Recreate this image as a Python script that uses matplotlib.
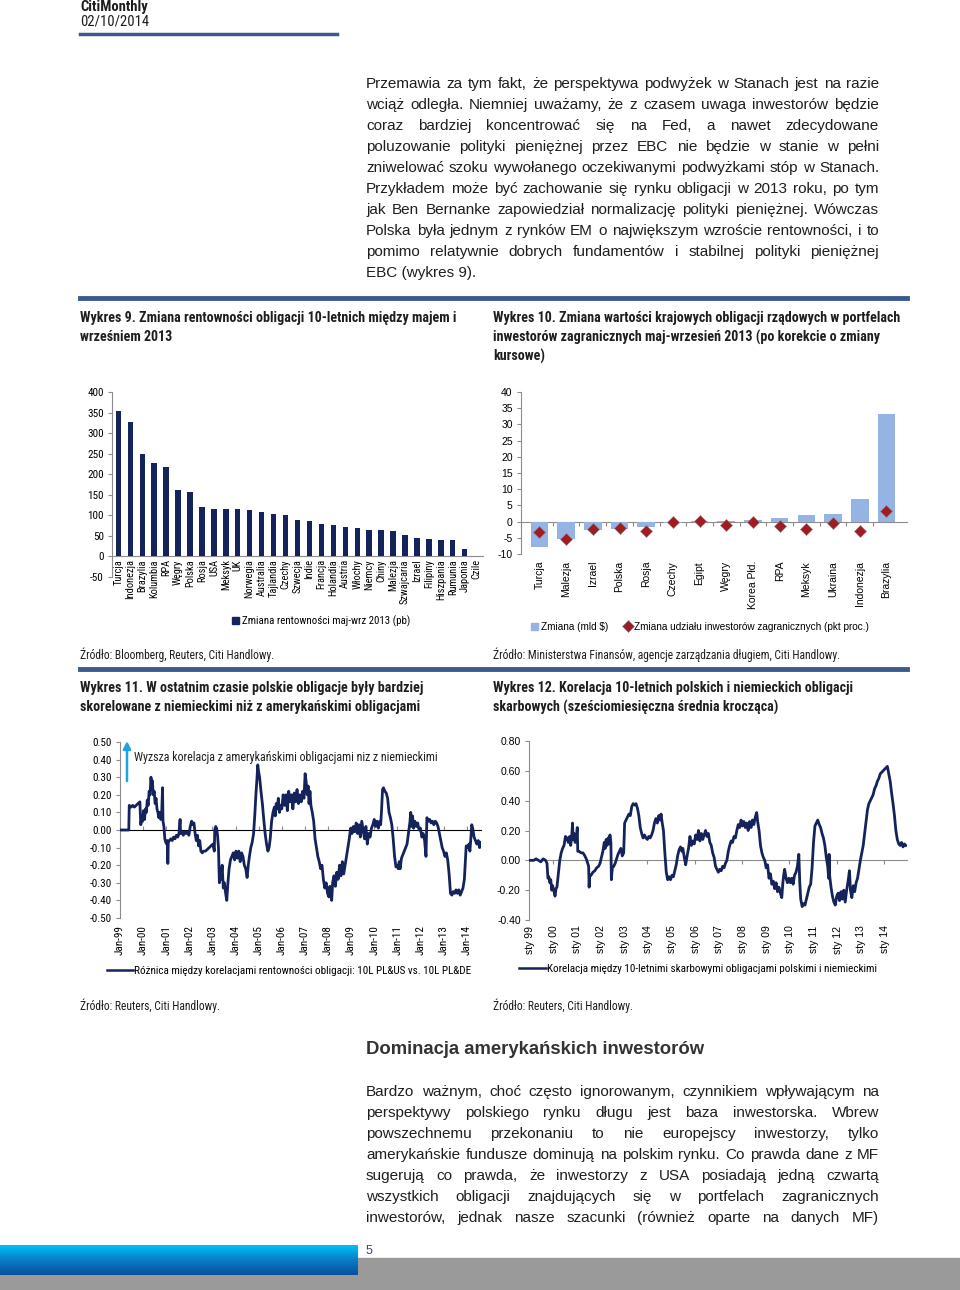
import matplotlib.pyplot as plt
import matplotlib.font_manager as fm
import numpy as np
from matplotlib.patches import Rectangle, Patch
from matplotlib.lines import Line2D

plt.rcParams["axes.unicode_minus"] = False

# ---- data: Wykres 9 ----
c9 = ["Turcja", "Indonezja", "Brazylia", "Kolumbia", "RPA", "Węgry", "Polska",
      "Rosja", "USA", "Meksyk", "UK", "Norwegia", "Australia", "Tajlandia",
      "Czechy", "Szwecja", "Indie", "Francja", "Holandia", "Austria", "Włochy",
      "Niemcy", "Chiny", "Malezja", "Szwajcaria", "Izrael", "Filipiny",
      "Hiszpania", "Rumunia", "Japonia", "Czile"]
v9 = [353, 327, 248, 227, 218, 161, 156, 121, 115, 115, 115, 114, 107, 104,
      102, 89, 87, 80, 76, 71, 68, 65, 65, 61, 52, 45, 43, 41, 41, 19, 0]

# ---- data: Wykres 10 ----
c10 = ["Turcja", "Malezja", "Izrael", "Polska", "Rosja", "Czechy", "Egipt",
       "Węgry", "Korea Płd.", "RPA", "Meksyk", "Ukraina", "Indonezja", "Brazylia"]
bars10 = [-7.8, -5.5, -2.5, -2.2, -1.8, -0.3, 0.2, 0.3, 0.5, 1.0, 2.0, 2.5, 7.0, 33.3]
share10 = [-3.2, -5.5, -2.3, -2.1, -3.0, -0.2, 0.1, -1.2, 0.0, -1.3, -2.3, -0.5, -2.9, 3.3]

# ---- data: Wykres 11 (decimal year, value) ----
t11 = [1999.00, 1999.38, 1999.40, 1999.48, 1999.55, 1999.62, 1999.70, 1999.78, 1999.86, 1999.90,
       1999.94, 1999.98, 2000.02, 2000.06, 2000.10, 2000.14, 2000.18, 2000.22, 2000.26, 2000.30,
       2000.34, 2000.37, 2000.40, 2000.44, 2000.48, 2000.52, 2000.56, 2000.60, 2000.64, 2000.68,
       2000.72, 2000.76, 2000.80, 2000.84, 2000.86, 2000.90, 2000.94, 2000.98, 2001.02, 2001.05,
       2001.07, 2001.09, 2001.14, 2001.20, 2001.26, 2001.32, 2001.38, 2001.44, 2001.50, 2001.55,
       2001.60, 2001.62, 2001.68, 2001.74, 2001.80, 2001.86, 2001.92, 2001.98, 2002.04, 2002.10,
       2002.15, 2002.20, 2002.25, 2002.30, 2002.35, 2002.40, 2002.45, 2002.50, 2002.56, 2002.62,
       2002.70, 2002.78, 2002.86, 2002.94, 2003.02, 2003.08, 2003.10, 2003.14, 2003.18, 2003.22,
       2003.26, 2003.30, 2003.33, 2003.37, 2003.42, 2003.47, 2003.52, 2003.57, 2003.62, 2003.67,
       2003.72, 2003.78, 2003.84, 2003.90, 2003.96, 2004.02, 2004.08, 2004.14, 2004.20, 2004.26,
       2004.32, 2004.38, 2004.44, 2004.50, 2004.55, 2004.60, 2004.66, 2004.72, 2004.78, 2004.83,
       2004.88, 2004.93, 2004.96, 2005.00, 2005.04, 2005.10, 2005.16, 2005.22, 2005.28, 2005.34,
       2005.40, 2005.45, 2005.50, 2005.56, 2005.62, 2005.68, 2005.72, 2005.76, 2005.80, 2005.85,
       2005.90, 2005.95, 2006.00, 2006.06, 2006.12, 2006.18, 2006.24, 2006.30, 2006.36, 2006.42,
       2006.48, 2006.54, 2006.60, 2006.66, 2006.72, 2006.78, 2006.84, 2006.90, 2006.96, 2007.01,
       2007.05, 2007.10, 2007.14, 2007.18, 2007.22, 2007.26, 2007.32, 2007.38, 2007.44, 2007.50,
       2007.56, 2007.62, 2007.68, 2007.74, 2007.80, 2007.86, 2007.92, 2007.98, 2008.04, 2008.08,
       2008.12, 2008.16, 2008.20, 2008.26, 2008.32, 2008.38, 2008.44, 2008.50, 2008.56, 2008.62,
       2008.68, 2008.74, 2008.80, 2008.86, 2008.92, 2008.98, 2009.04, 2009.10, 2009.16, 2009.22,
       2009.28, 2009.34, 2009.40, 2009.46, 2009.52, 2009.58, 2009.64, 2009.70, 2009.76, 2009.82,
       2009.88, 2009.94, 2010.00, 2010.06, 2010.12, 2010.18, 2010.24, 2010.28, 2010.32, 2010.36,
       2010.40, 2010.46, 2010.52, 2010.58, 2010.64, 2010.70, 2010.76, 2010.82, 2010.88, 2010.94,
       2011.00, 2011.04, 2011.08, 2011.12, 2011.18, 2011.24, 2011.30, 2011.36, 2011.42, 2011.48,
       2011.54, 2011.58, 2011.62, 2011.66, 2011.70, 2011.76, 2011.82, 2011.88, 2011.94, 2012.00,
       2012.06, 2012.12, 2012.18, 2012.24, 2012.28, 2012.34, 2012.40, 2012.46, 2012.52, 2012.58,
       2012.64, 2012.70, 2012.76, 2012.82, 2012.88, 2012.94, 2013.00, 2013.06, 2013.12, 2013.18,
       2013.24, 2013.30, 2013.36, 2013.42, 2013.48, 2013.54, 2013.60, 2013.66, 2013.72, 2013.78,
       2013.84, 2013.90, 2013.94, 2013.98, 2014.04, 2014.10, 2014.14, 2014.18, 2014.22, 2014.26,
       2014.32, 2014.38, 2014.44, 2014.50, 2014.56, 2014.60]
v11 = [0.00, 0.00, 0.14, 0.13, 0.14, 0.13, 0.14, 0.15, 0.16, 0.03,
       0.07, 0.05, 0.11, 0.06, 0.12, 0.10, 0.17, 0.14, 0.22, 0.20,
       0.30, 0.25, 0.28, 0.20, 0.22, 0.15, 0.18, 0.12, 0.10, 0.07,
       0.10, 0.06, 0.08, 0.24, 0.05, 0.02, -0.05, -0.07, -0.08, -0.06,
       -0.19, -0.07, -0.06, -0.05, -0.06, -0.04, -0.05, -0.03, -0.04, -0.02,
       0.06, -0.02, -0.01, -0.03, -0.01, -0.02, -0.01, -0.03, 0.02, 0.05,
       0.03, 0.04, -0.02, -0.06, -0.03, -0.09, -0.06, -0.12, -0.13, -0.12,
       -0.12, -0.11, -0.10, -0.09, -0.08, -0.12, 0.00, 0.02, 0.01, -0.03,
       -0.10, -0.30, -0.22, -0.28, -0.20, -0.33, -0.30, -0.36, -0.40, -0.30,
       -0.22, -0.17, -0.15, -0.13, -0.17, -0.12, -0.16, -0.12, -0.18, -0.13,
       -0.15, -0.20, -0.22, -0.27, -0.20, -0.15, -0.10, -0.07, -0.02, 0.08,
       0.20, 0.30, 0.37, 0.33, 0.30, 0.22, 0.15, 0.06, -0.02, -0.08,
       -0.12, -0.10, -0.05, 0.05, 0.10, 0.13, 0.08, 0.15, 0.12, 0.18,
       0.10, 0.14, 0.12, 0.20, 0.14, 0.20, 0.11, 0.22, 0.16, 0.20,
       0.12, 0.21, 0.16, 0.23, 0.15, 0.20, 0.16, 0.22, 0.18, 0.32,
       0.28, 0.20, 0.25, 0.15, 0.22, 0.14, 0.10, 0.05, -0.05, -0.10,
       -0.15, -0.18, -0.22, -0.20, -0.28, -0.33, -0.30, -0.36, -0.38, -0.32,
       -0.36, -0.40, -0.30, -0.26, -0.32, -0.24, -0.28, -0.20, -0.26, -0.18,
       -0.25, -0.20, -0.15, -0.10, -0.05, 0.01, -0.02, 0.02, -0.01, 0.04,
       -0.02, 0.03, -0.04, 0.05, 0.00, -0.05, 0.02, -0.08, -0.02, -0.04,
       0.01, 0.03, 0.06, 0.02, 0.05, 0.01, 0.05, 0.03, 0.12, 0.23,
       0.24, 0.22, 0.21, 0.18, 0.10, 0.07, 0.03, -0.05, -0.15, -0.21,
       -0.20, -0.22, -0.18, -0.22, -0.16, -0.14, -0.12, -0.10, -0.08, -0.02,
       0.04, 0.10, 0.02, 0.08, 0.01, 0.05, 0.02, 0.04, 0.00, 0.01,
       -0.04, -0.02, -0.06, -0.15, 0.07, 0.05, 0.06, 0.04, 0.05, 0.03,
       0.05, 0.04, 0.02, -0.02, -0.06, -0.10, -0.12, -0.15, -0.13, -0.17,
       -0.25, -0.36, -0.37, -0.35, -0.36, -0.34, -0.36, -0.34, -0.37, -0.35,
       -0.33, -0.28, -0.18, -0.09, -0.10, -0.08, -0.12, -0.05, 0.03, 0.01,
       -0.04, -0.06, -0.08, -0.06, -0.10, -0.07]

# ---- data: Wykres 12 (decimal year, value) ----
t12 = [1999.00, 1999.20, 1999.30, 1999.40, 1999.50, 1999.60, 1999.70, 1999.76, 1999.80, 1999.84,
       1999.88, 1999.92, 1999.96, 2000.00, 2000.06, 2000.10, 2000.14, 2000.18, 2000.22, 2000.26,
       2000.30, 2000.36, 2000.42, 2000.48, 2000.54, 2000.60, 2000.66, 2000.72, 2000.76, 2000.80,
       2000.84, 2000.86, 2000.90, 2000.95, 2001.00, 2001.04, 2001.06, 2001.12, 2001.20, 2001.28,
       2001.36, 2001.42, 2001.48, 2001.52, 2001.54, 2001.56, 2001.62, 2001.70, 2001.78, 2001.86,
       2001.94, 2002.00, 2002.06, 2002.12, 2002.18, 2002.22, 2002.26, 2002.30, 2002.34, 2002.38,
       2002.42, 2002.46, 2002.48, 2002.52, 2002.58, 2002.64, 2002.70, 2002.76, 2002.82, 2002.88,
       2002.94, 2003.00, 2003.04, 2003.10, 2003.16, 2003.22, 2003.28, 2003.34, 2003.40, 2003.46,
       2003.52, 2003.58, 2003.64, 2003.70, 2003.76, 2003.82, 2003.88, 2003.94, 2004.00, 2004.06,
       2004.12, 2004.18, 2004.24, 2004.30, 2004.36, 2004.42, 2004.48, 2004.54, 2004.58, 2004.62,
       2004.68, 2004.74, 2004.80, 2004.86, 2004.92, 2004.98, 2005.04, 2005.10, 2005.16, 2005.22,
       2005.28, 2005.34, 2005.40, 2005.46, 2005.50, 2005.56, 2005.62, 2005.68, 2005.74, 2005.80,
       2005.86, 2005.92, 2005.98, 2006.04, 2006.10, 2006.16, 2006.22, 2006.28, 2006.34, 2006.40,
       2006.46, 2006.52, 2006.58, 2006.64, 2006.70, 2006.76, 2006.82, 2006.88, 2006.94, 2007.00,
       2007.06, 2007.12, 2007.18, 2007.24, 2007.30, 2007.36, 2007.42, 2007.48, 2007.54, 2007.60,
       2007.66, 2007.72, 2007.78, 2007.84, 2007.90, 2007.96, 2008.02, 2008.08, 2008.14, 2008.20,
       2008.26, 2008.32, 2008.38, 2008.44, 2008.50, 2008.56, 2008.62, 2008.66, 2008.72, 2008.78,
       2008.84, 2008.90, 2008.96, 2009.02, 2009.08, 2009.14, 2009.20, 2009.26, 2009.32, 2009.38,
       2009.44, 2009.50, 2009.56, 2009.62, 2009.68, 2009.72, 2009.76, 2009.80, 2009.86, 2009.92,
       2009.98, 2010.04, 2010.10, 2010.16, 2010.22, 2010.28, 2010.34, 2010.40, 2010.44, 2010.48,
       2010.54, 2010.60, 2010.66, 2010.72, 2010.78, 2010.84, 2010.90, 2010.96, 2011.02, 2011.08,
       2011.14, 2011.20, 2011.26, 2011.32, 2011.38, 2011.44, 2011.50, 2011.56, 2011.62, 2011.66,
       2011.68, 2011.70, 2011.76, 2011.82, 2011.88, 2011.94, 2012.00, 2012.06, 2012.12, 2012.18,
       2012.24, 2012.30, 2012.36, 2012.42, 2012.48, 2012.54, 2012.58, 2012.64, 2012.70, 2012.76,
       2012.82, 2012.88, 2012.94, 2013.00, 2013.06, 2013.12, 2013.18, 2013.24, 2013.30, 2013.36,
       2013.42, 2013.48, 2013.54, 2013.60, 2013.66, 2013.72, 2013.78, 2013.84, 2013.90, 2013.96,
       2014.02, 2014.08, 2014.14, 2014.20, 2014.26, 2014.32, 2014.38, 2014.44, 2014.50, 2014.56,
       2014.62, 2014.68, 2014.74, 2014.80, 2014.86, 2014.92]
v12 = [0.00, 0.00, 0.01, 0.00, -0.01, 0.01, 0.00, -0.02, -0.12, -0.11,
       -0.15, -0.13, -0.20, -0.17, -0.21, -0.24, -0.19, -0.18, -0.12, -0.06,
       0.00, 0.05, 0.08, 0.10, 0.16, 0.15, 0.12, 0.16, 0.10, 0.15,
       0.25, 0.14, 0.18, 0.12, 0.16, 0.22, 0.06, 0.06, 0.05, 0.05,
       0.03, 0.01, -0.02, -0.04, -0.18, -0.11, -0.10, -0.08, -0.07, -0.05,
       -0.04, -0.02, 0.02, 0.06, 0.12, 0.08, 0.14, 0.10, 0.15, 0.11,
       0.17, 0.12, -0.13, -0.05, -0.04, -0.02, 0.01, 0.04, 0.06, 0.08,
       0.03, 0.05, 0.25, 0.27, 0.29, 0.31, 0.30, 0.36, 0.38, 0.37,
       0.38, 0.35, 0.30, 0.22, 0.18, 0.15, 0.17, 0.15, 0.14, 0.16,
       0.15, 0.17, 0.20, 0.25, 0.28, 0.25, 0.30, 0.27, 0.31, 0.26,
       0.20, 0.05, -0.08, -0.13, -0.11, -0.13, -0.10, -0.11, -0.07, -0.03,
       0.03, 0.07, 0.09, 0.06, 0.08, 0.02, -0.03, 0.03, 0.08, 0.16,
       0.10, 0.13, 0.11, 0.17, 0.14, 0.20, 0.13, 0.18, 0.14, 0.17,
       0.20, 0.16, 0.18, 0.12, 0.10, 0.05, 0.02, -0.04, -0.06, -0.08,
       -0.06, -0.07, -0.04, -0.05, -0.02, 0.00, 0.06, 0.10, 0.13, 0.12,
       0.16, 0.15, 0.20, 0.24, 0.22, 0.27, 0.23, 0.26, 0.22, 0.25,
       0.20, 0.26, 0.22, 0.27, 0.24, 0.29, 0.32, 0.26, 0.20, 0.10,
       0.05, 0.02, 0.00, -0.05, -0.03, -0.12, -0.09, -0.16, -0.14, -0.19,
       -0.15, -0.21, -0.18, -0.22, -0.25, -0.16, -0.10, -0.06, -0.12, -0.15,
       -0.12, -0.15, -0.12, -0.16, -0.10, -0.08, -0.04, 0.04, -0.15, -0.26,
       -0.31, -0.29, -0.30, -0.26, -0.22, -0.18, -0.16, -0.05, 0.12, 0.23,
       0.25, 0.27, 0.24, 0.22, 0.18, 0.15, 0.10, 0.02, -0.04, -0.12,
       0.04, -0.10, -0.18, -0.24, -0.28, -0.30, -0.24, -0.22, -0.27, -0.21,
       -0.26, -0.20, -0.28, -0.20, -0.14, -0.07, -0.20, -0.25, -0.17, -0.21,
       -0.15, -0.12, -0.06, 0.00, 0.05, 0.10, 0.18, 0.26, 0.34, 0.38,
       0.40, 0.42, 0.44, 0.48, 0.50, 0.53, 0.55, 0.58, 0.59, 0.60,
       0.61, 0.62, 0.63, 0.58, 0.53, 0.45, 0.38, 0.30, 0.20, 0.14,
       0.11, 0.10, 0.12, 0.09, 0.11, 0.10]

para1 = [
    "Przemawia za tym fakt, że perspektywa podwyżek w Stanach jest na razie",
    "wciąż odległa. Niemniej uważamy, że z czasem uwaga inwestorów będzie",
    "coraz bardziej koncentrować się na Fed, a nawet zdecydowane",
    "poluzowanie polityki pieniężnej przez EBC nie będzie w stanie w pełni",
    "zniwelować szoku wywołanego oczekiwanymi podwyżkami stóp w Stanach.",
    "Przykładem może być zachowanie się rynku obligacji w 2013 roku, po tym",
    "jak Ben Bernanke zapowiedział normalizację polityki pieniężnej. Wówczas",
    "Polska była jednym z rynków EM o największym wzroście rentowności, i to",
    "pomimo relatywnie dobrych fundamentów i stabilnej polityki pieniężnej",
    "EBC (wykres 9).",
]
para2 = [
    "Bardzo ważnym, choć często ignorowanym, czynnikiem wpływającym na",
    "perspektywy polskiego rynku długu jest baza inwestorska. Wbrew",
    "powszechnemu przekonaniu to nie europejscy inwestorzy, tylko",
    "amerykańskie fundusze dominują na polskim rynku. Co prawda dane z MF",
    "sugerują co prawda, że inwestorzy z USA posiadają jedną czwartą",
    "wszystkich obligacji znajdujących się w portfelach zagranicznych",
    "inwestorów, jednak nasze szacunki (również oparte na danych MF)",
]

W, H = 960, 1290
NAVY = "#14235c"
RULE = "#3b5b8f"
GRAY = "#8c8c8c"
TXT = "#1e1e1e"
REG = ["Liberation Sans", "DejaVu Sans"]


def _weight(f):
    w = f.weight
    if isinstance(w, str):
        w = fm.weight_dict.get(w, 400)
    return w


def find_narrow(bold):
    want = 700 if bold else 400
    prefs = ["Liberation Sans Narrow", "Arial Narrow", "Roboto Condensed",
             "Open Sans Condensed", "Noto Sans", "DejaVu Sans", "Roboto",
             "Open Sans", "Noto Sans Display"]
    for name in prefs:
        for f in fm.fontManager.ttflist:
            if f.name != name or f.style != "normal" or _weight(f) != want:
                continue
            fn = f.fname.replace("\\", "/").split("/")[-1].lower()
            if "narrow" in f.name.lower() or "condensed" in f.name.lower():
                return f.fname
            if f.stretch == "condensed" and "semi" not in fn and "extra" not in fn \
                    and "ultra" not in fn:
                return f.fname
    return None


NARROW_B = find_narrow(True)
NARROW_R = find_narrow(False)


def nfont(size, bold=False):
    fname = NARROW_B if bold else NARROW_R
    if fname:
        return fm.FontProperties(fname=fname, size=size)
    return fm.FontProperties(family="Liberation Sans", size=size * 0.86,
                             weight="bold" if bold else "normal")


fig = plt.figure(figsize=(9.6, 12.9), dpi=100)
renderer = fig.canvas.get_renderer()


def fx(x):
    return x / W


def fy(y):
    return 1 - y / H


def box(l, t, r, b):
    return [fx(l), fy(b), (r - l) / W, (b - t) / H]


def ptext(x, y, s, **kw):
    kw.setdefault("va", "center")
    kw.setdefault("color", TXT)
    return fig.text(fx(x), fy(y), s, **kw)


def justify(lines, x0, x1, y0, dy, size, last_full=False):
    for i, line in enumerate(lines):
        y = y0 + i * dy
        if i == len(lines) - 1 and not last_full:
            ptext(x0, y, line, fontsize=size, family=REG)
            continue
        words = line.split()
        texts = [ptext(x0, y, w, fontsize=size, family=REG) for w in words]
        widths = [t.get_window_extent(renderer).width for t in texts]
        gap = (x1 - x0 - sum(widths)) / (len(words) - 1)
        x = x0
        for t, w in zip(texts, widths):
            t.set_x(fx(x))
            x += w + gap


def rule(y, x0=80, x1=907, lw=3.5):
    fig.add_artist(Line2D([fx(x0), fx(x1)], [fy(y), fy(y)], color=RULE, lw=lw))


def style_axes(ax):
    for s in ["top", "right", "bottom"]:
        ax.spines[s].set_visible(False)
    ax.spines["left"].set_color(GRAY)
    ax.tick_params(axis="y", direction="out", length=3, color=GRAY, pad=3)


def set_font(labels, fp):
    for lab in labels:
        lab.set_fontproperties(fp)


def fmt2(vals):
    return [f"{round(v, 2) + 0.0:.2f}" for v in vals]


# ---- header ----
ptext(80, 7, "CitiMonthly", fontproperties=nfont(10.5, True))
ptext(80, 22, "02/10/2014", fontproperties=nfont(10.5))
rule(34, 80, 337, lw=2.5)

justify(para1, 366, 879, 84, 21, 11)
rule(298)

# ---- titles ----
TFP = nfont(10.1, True)
ptext(80, 318, "Wykres 9. Zmiana rentowności obligacji 10-letnich między majem i", fontproperties=TFP)
ptext(80, 337, "wrześniem 2013", fontproperties=TFP)
ptext(493, 318, "Wykres 10. Zmiana wartości krajowych obligacji rządowych w portfelach", fontproperties=TFP)
ptext(493, 337, "inwestorów zagranicznych maj-wrzesień 2013 (po korekcie o zmiany", fontproperties=TFP)
ptext(493, 356, "kursowe)", fontproperties=TFP)

# ---- Wykres 9 ----
ax9 = fig.add_axes(box(112, 392, 483, 577))
x9 = np.arange(len(c9))
ax9.bar(x9, v9, width=0.45, color=NAVY, zorder=3)
ax9.set_xlim(-0.53, len(c9) - 0.47)
ax9.set_ylim(-50, 400)
ax9.set_yticks(range(-50, 401, 50))
style_axes(ax9)
ax9.spines["bottom"].set_visible(True)
ax9.spines["bottom"].set_position(("data", 0))
ax9.spines["bottom"].set_color(GRAY)
ax9.set_xticks(x9)
ax9.set_xticklabels(c9, rotation=90)
ax9.tick_params(axis="x", length=0, pad=2)
set_font(ax9.get_xticklabels(), nfont(7.5))
set_font(ax9.get_yticklabels(), nfont(8))
ax9.legend(handles=[Patch(color=NAVY)], labels=["Zmiana rentowności maj-wrz 2013 (pb)"],
           loc="center", bbox_to_anchor=(fx(321), fy(621)), bbox_transform=fig.transFigure,
           frameon=False, prop=nfont(7.8),
           handlelength=0.6, handleheight=0.6, handletextpad=0.3)

# ---- Wykres 10 ----
ax10 = fig.add_axes(box(521, 392, 907, 554))
x10 = np.arange(len(c10))
ax10.bar(x10, bars10, width=0.66, color="#95b3e3", zorder=2)
ax10.scatter(x10, share10, marker="D", s=38, color="#a01c24", edgecolor="#8a8a8a",
             linewidth=0.4, zorder=4)
ax10.set_xlim(-0.69, 13.77)
ax10.set_ylim(-10, 40)
ax10.set_yticks(range(-10, 41, 5))
style_axes(ax10)
ax10.set_xticks(x10)
ax10.set_xticklabels(c10, rotation=90, fontsize=7.5, family=REG)
ax10.tick_params(axis="x", length=0, pad=5)
for lab in ax10.get_yticklabels():
    lab.set_fontsize(7.5)
    lab.set_family(REG)
sec10 = ax10.secondary_xaxis(10 / 50)
sec10.set_xticks(x10[:-1] + 0.5)
sec10.set_xticklabels([])
sec10.tick_params(length=3, color=GRAY)
sec10.spines["bottom"].set_color(GRAY)
ax10.legend(handles=[Patch(color="#95b3e3"),
                     Line2D([], [], ls="none", marker="D", ms=6, color="#a01c24",
                            markeredgecolor="#8a8a8a", markeredgewidth=0.4)],
            labels=["Zmiana (mld $)", "Zmiana udziału inwestorów zagranicznych (pkt proc.)"],
            ncol=2, loc="center", bbox_to_anchor=(fx(700), fy(627)),
            bbox_transform=fig.transFigure, frameon=False,
            prop={"family": REG, "size": 7.2}, handlelength=0.7, handleheight=0.7,
            handletextpad=0.3, columnspacing=1.6)

# ---- sources ----
SFP = nfont(8.3)
ptext(80, 655, "Źródło: Bloomberg, Reuters, Citi Handlowy.", fontproperties=SFP)
ptext(493, 655, "Źródło: Ministerstwa Finansów, agencje zarządzania długiem, Citi Handlowy.",
      fontproperties=SFP)
rule(669)

ptext(80, 688, "Wykres 11. W ostatnim czasie polskie obligacje były bardziej", fontproperties=TFP)
ptext(80, 707, "skorelowane z niemieckimi niż z amerykańskimi obligacjami", fontproperties=TFP)
ptext(493, 688, "Wykres 12. Korelacja 10-letnich polskich i niemieckich obligacji", fontproperties=TFP)
ptext(493, 707, "skarbowych (sześciomiesięczna średnia krocząca)", fontproperties=TFP)

# ---- Wykres 11 ----
ax11 = fig.add_axes(box(120, 742, 481, 918))
ax11.plot(t11, v11, color=NAVY, lw=2, zorder=3)
ax11.set_xlim(1999.0, 2014.62)
ax11.set_ylim(-0.5, 0.5)
yt11 = np.arange(-0.5, 0.51, 0.1)
ax11.set_yticks(yt11)
ax11.set_yticklabels(fmt2(yt11))
set_font(ax11.get_yticklabels(), nfont(8))
style_axes(ax11)
years = list(range(1999, 2015))
ax11.set_xticks(years)
ax11.set_xticklabels([f"Jan-{y % 100:02d}" for y in years], rotation=90)
set_font(ax11.get_xticklabels(), nfont(8))
ax11.tick_params(axis="x", length=0, pad=5)
sec11 = ax11.secondary_xaxis(0.5)
sec11.set_xticks(years)
sec11.set_xticklabels([])
sec11.tick_params(length=3, color=GRAY)
sec11.spines["bottom"].set_color(GRAY)
fig.add_artist(plt.Annotation("", xy=(fx(127), fy(741)), xytext=(fx(127), fy(781)),
                              xycoords="figure fraction",
                              arrowprops=dict(arrowstyle="-|>", color="#1ba7de", lw=1.8,
                                              mutation_scale=11, shrinkA=0, shrinkB=0)))
ptext(134, 757, "Wyzsza korelacja z amerykańskimi obligacjami niz z niemieckimi",
      fontproperties=nfont(8.6))
ax11.legend(handles=[Line2D([], [], color=NAVY, lw=1.8)],
            labels=["Różnica między korelacjami rentowności obligacji: 10L PL&US vs. 10L PL&DE"],
            loc="center", bbox_to_anchor=(fx(289), fy(971)), bbox_transform=fig.transFigure,
            frameon=False, prop=nfont(8), handlelength=2.4, handletextpad=0.1)

# ---- Wykres 12 ----
ax12 = fig.add_axes(box(529, 741, 907, 920))
ax12.plot(t12, v12, color=NAVY, lw=2, zorder=3)
ax12.set_xlim(1999.0, 2014.97)
ax12.set_ylim(-0.4, 0.8)
yt12 = np.arange(-0.4, 0.81, 0.2)
ax12.set_yticks(yt12)
ax12.set_yticklabels(fmt2(yt12), fontsize=7.5, family=REG)
style_axes(ax12)
ax12.set_xticks([y + 0.04 for y in years])
ax12.set_xticklabels([f"sty {y % 100:02d}" for y in years], rotation=90,
                     fontsize=7.5, family=REG)
ax12.tick_params(axis="x", length=0, pad=4)
sec12 = ax12.secondary_xaxis(0.4 / 1.2)
sec12.set_xticks(list(range(2000, 2015, 2)))
sec12.set_xticklabels([])
sec12.tick_params(length=3, color=GRAY)
sec12.spines["bottom"].set_color(GRAY)
ax12.legend(handles=[Line2D([], [], color=NAVY, lw=1.8)],
            labels=["Korelacja między 10-letnimi skarbowymi obligacjami polskimi i niemieckimi"],
            loc="center", bbox_to_anchor=(fx(698), fy(969)), bbox_transform=fig.transFigure,
            frameon=False, prop=nfont(8), handlelength=2.4, handletextpad=0.1)

ptext(80, 1006, "Źródło: Reuters, Citi Handlowy.", fontproperties=SFP)
ptext(493, 1006, "Źródło: Reuters, Citi Handlowy.", fontproperties=SFP)

# ---- second section ----
ptext(366, 1050, "Dominacja amerykańskich inwestorów", fontsize=13.3, weight="bold",
      color="#333333", family=REG)
justify(para2, 366, 879, 1092, 21, 11, last_full=True)

# ---- footer ----
fig.add_artist(Rectangle((0, 0), 1, fy(1258), transform=fig.transFigure,
                         color="#9a9a9a", zorder=1))
grad = fig.add_axes(box(0, 1245, 358, 1275), zorder=2)
grad.imshow(np.linspace(0, 1, 50).reshape(-1, 1), aspect="auto",
            cmap=plt.matplotlib.colors.LinearSegmentedColormap.from_list(
                "g", ["#00c0f5", "#0a7cc8", "#08509a"]))
grad.axis("off")
ptext(366, 1251, "5", fontsize=9, color="#3a4a70", family=REG)

fig.savefig("out.png", dpi=100)
